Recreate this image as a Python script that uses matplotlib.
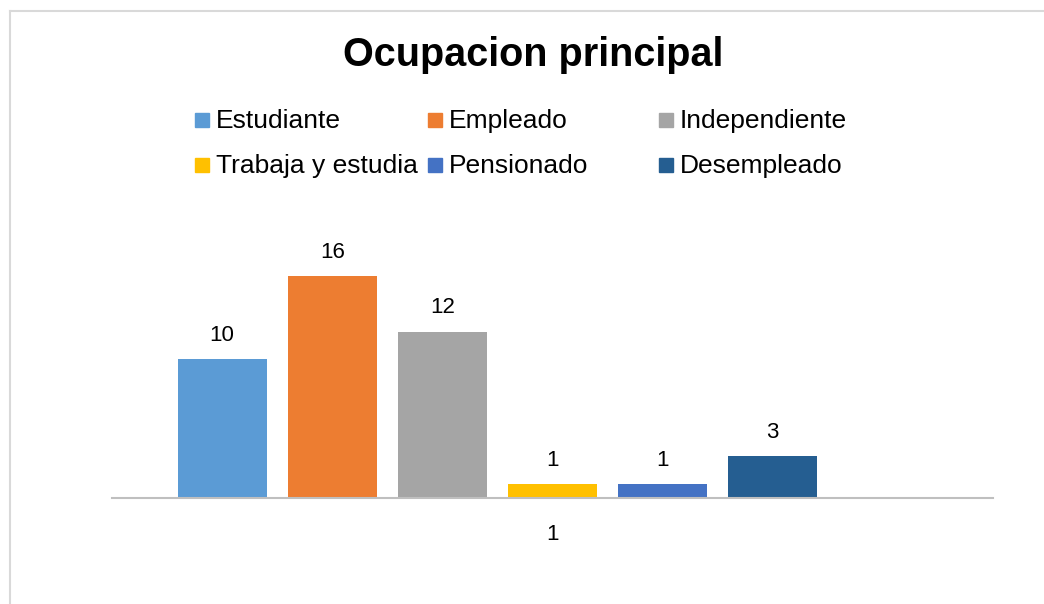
import matplotlib.pyplot as plt
from matplotlib.patches import Rectangle
from matplotlib.lines import Line2D

series = ["Estudiante", "Empleado", "Independiente",
          "Trabaja y estudia", "Pensionado", "Desempleado"]
values = [10, 16, 12, 1, 1, 3]
colors = ["#5B9BD5", "#ED7D31", "#A5A5A5", "#FFC000", "#4472C4", "#255E91"]
category = "1"

plt.rcParams["font.family"] = ["Liberation Sans", "DejaVu Sans"]

W, H = 1044, 604
fig = plt.figure(figsize=(W / 100, H / 100), dpi=100)

# chart border (light gray, cut off at right and bottom)
fig.add_artist(Line2D([10 / W, 10 / W], [0, 1 - 11 / H], color="#D9D9D9", lw=1.5))
fig.add_artist(Line2D([10 / W, 1], [1 - 11 / H, 1 - 11 / H], color="#D9D9D9", lw=1.5))

# plot area: baseline at y=498 px, 0..18 spans 250 px
ymax = 18
top_px = 498 - ymax * 13.875
ax = fig.add_axes([112 / W, (H - 498) / H, (993 - 112) / W, (498 - top_px) / H])

xs = list(range(len(series)))
bars = ax.bar(xs, values, width=0.807, color=colors)
for x, v in zip(xs, values):
    ax.annotate(str(v), (x, v), xytext=(0, 17), textcoords="offset points",
                ha="center", va="center", fontsize=16)

ax.set_xlim(-1, 7)
ax.set_ylim(0, ymax)
for s in ["top", "right", "left"]:
    ax.spines[s].set_visible(False)
ax.spines["bottom"].set_color("#BFBFBF")
ax.spines["bottom"].set_linewidth(1.5)
ax.set_yticks([])
ax.set_xticks([3])
ax.set_xticklabels([category], fontsize=16)
ax.tick_params(axis="x", length=0, pad=19)

fig.text(533 / W, 1 - 55 / H, "Ocupacion principal", ha="center", va="center",
         fontsize=28.5, fontweight="bold")

# legend, 3 equal-width columns like Excel
col_x = [195, 428, 659]
row_y = [120, 165]
for i, (name, c) in enumerate(zip(series, colors)):
    mx = col_x[i % 3]
    my = row_y[i // 3]
    fig.add_artist(Rectangle((mx / W, 1 - (my + 7) / H), 14 / W, 14 / H,
                             color=c, transform=fig.transFigure))
    fig.text((mx + 21) / W, 1 - (my + 1) / H, name, ha="left", va="center", fontsize=19)

fig.savefig("out.png", dpi=100)
